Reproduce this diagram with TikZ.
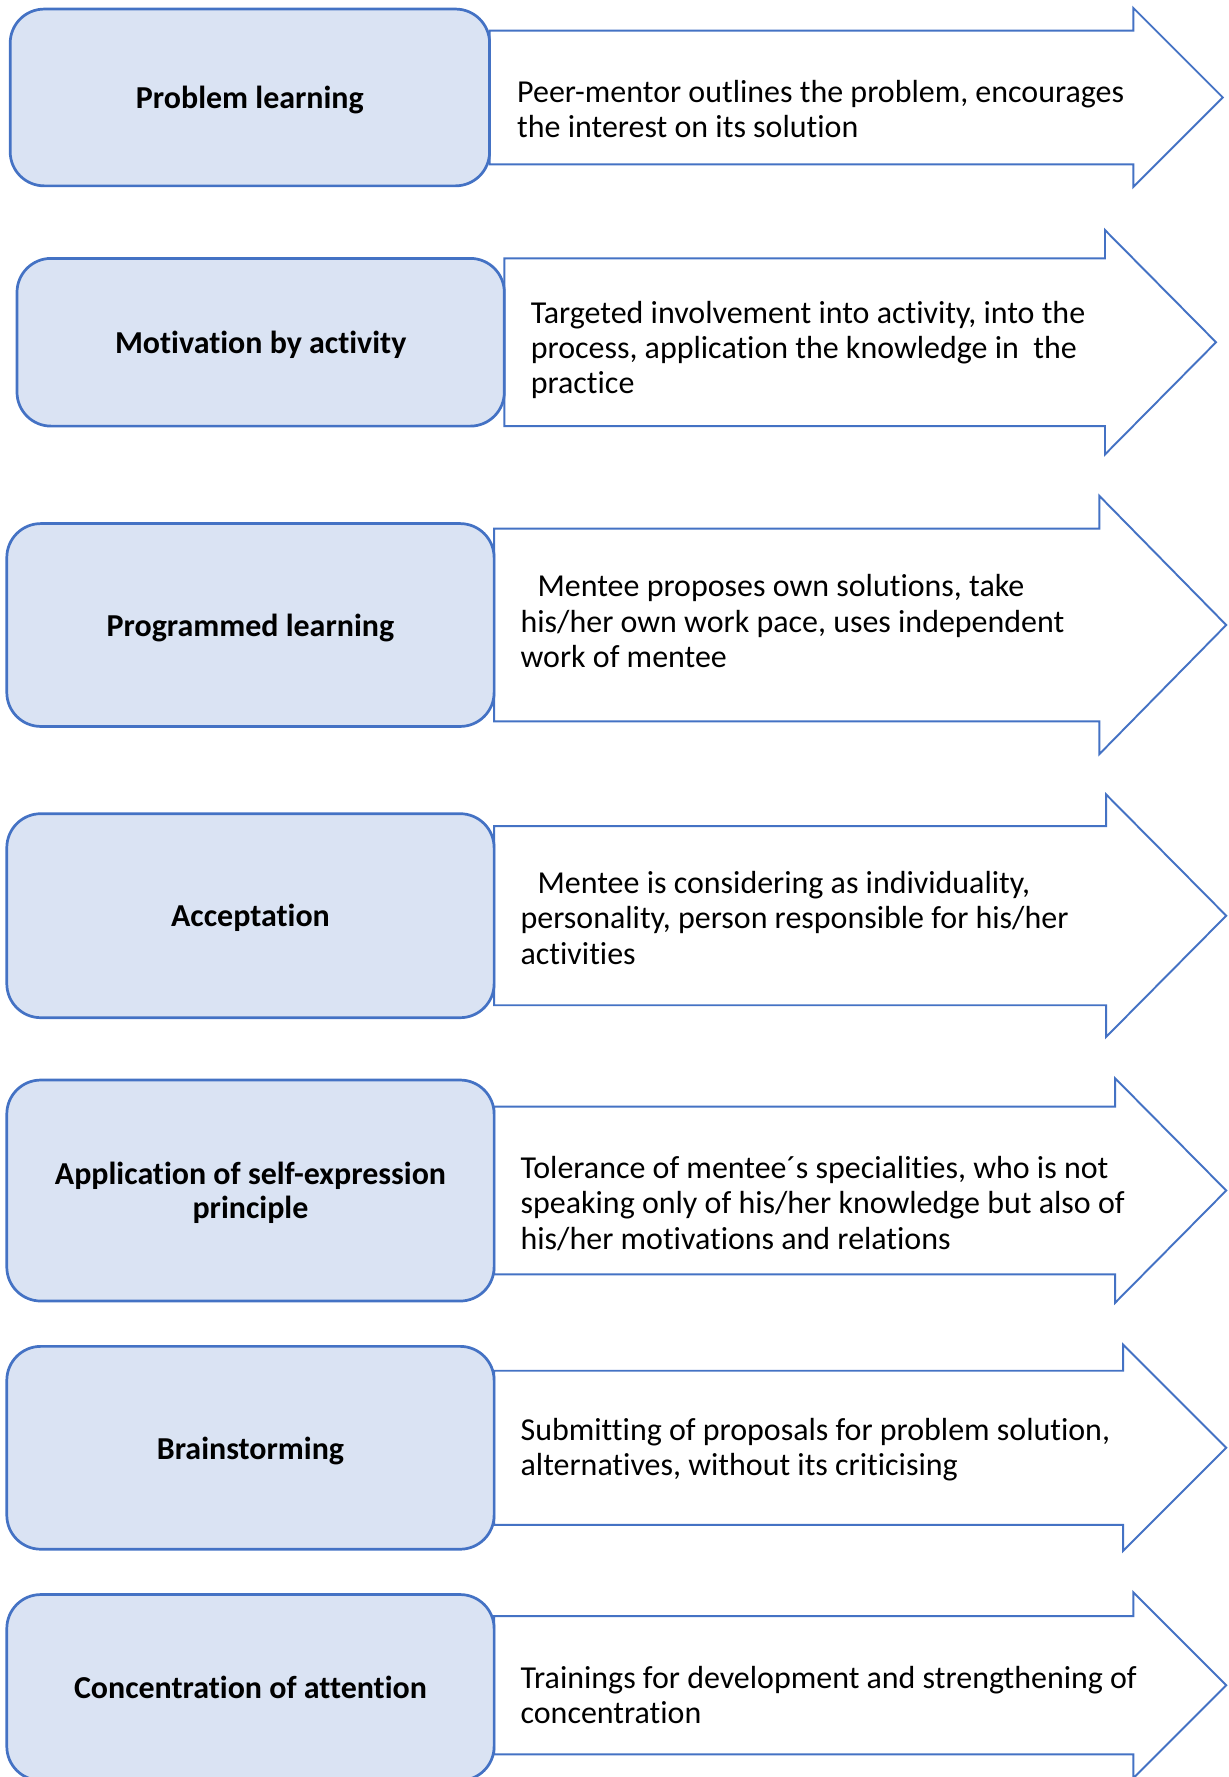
\documentclass[tikz,border=0pt]{standalone}
\usepackage{fontspec}
\setmainfont{Carlito}[Ligatures={NoCommon}]
\usetikzlibrary{positioning}
\definecolor{stagefill}{HTML}{DAE3F3}
\definecolor{stageline}{HTML}{4472C4}
\tikzset{
    stage/.style = {draw=stageline,fill=stagefill,line width=1.2pt,rounded corners=15pt,align=center,inner sep=0,text depth=0pt,font=\bfseries\fontsize{14.1}{15.2}\selectfont},
    outline/.style = {draw=stageline,fill=white,line width=0.85pt,line join=miter},
    descr/.style = {anchor=west,align=left,inner sep=0,font=\fontsize{14.1}{15.5}\selectfont}
}
\begin{document}
\begin{tikzpicture}[x=0.5pt,y=-0.5pt]
        \useasboundingbox (0,0) rectangle (1084,1568);
        \clip (0,0) rectangle (1084,1568);
        % Arrows (left/centre/body half/head x/head half/tip)
        \foreach \l/\c/\ah/\hx/\hh/\tx in {432/86/59/1000/79/1079,445/302/74/975/99/1073,436/551.5/85/970/114/1082,436/808/79/976/107/1082,436/1050.5/74/984/99/1082,436/1277.5/68/991/91/1082,436/1487/61/1000/82/1082}
            \draw[outline] (\l,\c-\ah) -- (\hx,\c-\ah) -- (\hx,\c-\hh) -- (\tx,\c)
                -- (\hx,\c+\hh) -- (\hx,\c+\ah) -- (\l,\c+\ah) -- cycle;
        % Stages
        \node[stage,minimum width=211.5pt,minimum height=78pt] (pl) at (220.5,86) {Problem learning};
        \node[stage,minimum width=215pt,minimum height=74pt] (mba) at (230,302) {Motivation by activity};
        \node[stage,minimum width=215pt,minimum height=89.5pt] (prl) at (221,551.5) {Programmed learning};
        \node[stage,minimum width=215pt,minimum height=90pt] (acc) at (221,808) {Acceptation};
        \node[stage,minimum width=215pt,minimum height=97.5pt] (sep) at (221,1050.5) {Application of self-expression\\principle};
        \node[stage,minimum width=215pt,minimum height=89.5pt] (bs) at (221,1277.5) {Brainstorming};
        \node[stage,minimum width=215pt,minimum height=82pt] (coa) at (221,1489) {Concentration of attention};
        % Descriptions
        \node[descr] (pl-d) at (456,96.5) {Peer-mentor outlines the problem, encourages\\the interest on its solution};
        \node[descr] (mba-d) at (468,309) {Targeted involvement into activity, into the\\process, application the knowledge in~ the\\practice};
        \node[descr] (prl-d) at (459,548) {\hspace*{7.5pt}Mentee proposes own solutions, take\\his/her own work pace, uses independent\\work of mentee};
        \node[descr] (acc-d) at (459,810) {\hspace*{7.5pt}Mentee is considering as individuality,\\personality, person responsible for his/her\\activities};
        \node[descr] (sep-d) at (459,1062) {Tolerance of mentee´s specialities, who is not\\speaking only of his/her knowledge but also of\\his/her motivations and relations};
        \node[descr] (bs-d) at (459,1279.5) {Submitting of proposals for problem solution,\\alternatives, without its criticising};
        \node[descr] (coa-d) at (459,1496) {Trainings for development and strengthening of\\concentration};
    \end{tikzpicture}
\end{document}
